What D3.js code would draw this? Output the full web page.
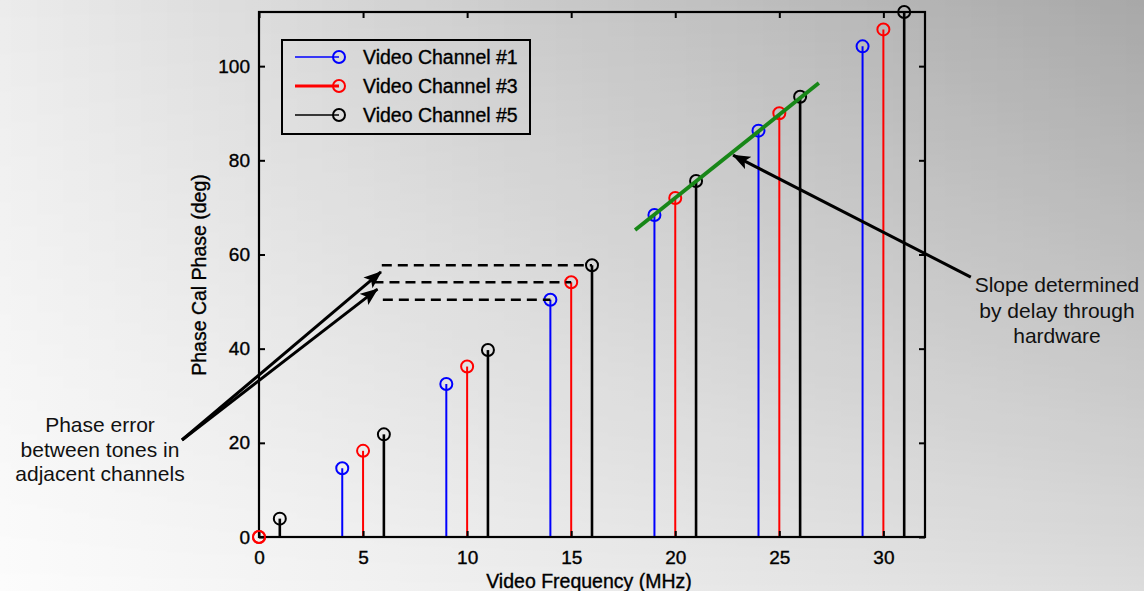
<!DOCTYPE html>
<html><head><meta charset="utf-8">
<script src="https://cdn.jsdelivr.net/npm/d3@7"></script>
<style>html,body{margin:0;padding:0;overflow:hidden;background:#fff}svg{display:block}</style>
</head><body>
<script>
// ---- data ----
const freqCh1 = [4, 9, 14, 19, 24, 29];
const phaseCh1 = [14.6, 32.5, 50.4, 68.4, 86.3, 104.2];
const freqCh3 = [0, 5, 10, 15, 20, 25, 30];
const phaseCh3 = [0, 18.3, 36.2, 54.1, 72.0, 90.0, 107.8];
const freqCh5 = [1, 6, 11, 16, 21, 26, 31];
const phaseCh5 = [3.9, 21.8, 39.7, 57.7, 75.6, 93.5, 111.5];
const seriesNames = ["Video Channel #1", "Video Channel #3", "Video Channel #5"];
const xTicks = [0, 5, 10, 15, 20, 25, 30];
const yTicks = [0, 20, 40, 60, 80, 100];
const xLabel = "Video Frequency (MHz)";
const yLabel = "Phase Cal Phase (deg)";
// annotation geometry in data units
const slopeLine = [[18.07, 65.2], [26.9, 96.4]];
const errorDashes = [[5.9, 16, 57.7], [5.5, 15, 54.1], [5.95, 14, 50.4]];
const errorArrows = [[[-3.7, 20.6], [5.86, 56.3]], [[-3.7, 20.6], [5.69, 52.65]]];
const slopeArrow = [[34.2, 55.2], [22.78, 81.1]];
const noteLeft = ["Phase error", "between tones in", "adjacent channels"];
const noteRight = ["Slope determined", "by delay through", "hardware"];

const W = 1144, H = 591;
const svg = d3.select("body").append("svg").attr("width", W).attr("height", H);
const defs = svg.append("defs");

// background gradient
const gBase = defs.append("linearGradient").attr("id", "gBase").attr("x1", 0).attr("y1", 0).attr("x2", 1).attr("y2", 0);
gBase.append("stop").attr("offset", 0).attr("stop-color", "#fcfcfc");
gBase.append("stop").attr("offset", 1).attr("stop-color", "#dcdcdc");
const gDark = defs.append("linearGradient").attr("id", "gDark").attr("x1", 0).attr("y1", 0).attr("x2", 1).attr("y2", 0);
gDark.append("stop").attr("offset", 0).attr("stop-color", "#000").attr("stop-opacity", 0.063);
gDark.append("stop").attr("offset", 1).attr("stop-color", "#000").attr("stop-opacity", 0.236);
const gMask = defs.append("linearGradient").attr("id", "gMask").attr("x1", 0).attr("y1", 0).attr("x2", 0).attr("y2", 1);
gMask.append("stop").attr("offset", 0).attr("stop-color", "#fff");
gMask.append("stop").attr("offset", 1).attr("stop-color", "#000");
defs.append("mask").attr("id", "mV").append("rect").attr("width", W).attr("height", H).attr("fill", "url(#gMask)");
svg.append("rect").attr("width", W).attr("height", H).attr("fill", "url(#gBase)");
svg.append("rect").attr("width", W).attr("height", H).attr("fill", "url(#gDark)").attr("mask", "url(#mV)");

// arrow marker
defs.append("marker").attr("id", "ah").attr("markerUnits", "userSpaceOnUse")
  .attr("viewBox", "0 0 18 14").attr("refX", 17).attr("refY", 7)
  .attr("markerWidth", 18).attr("markerHeight", 14).attr("orient", "auto")
  .append("path").attr("d", "M0,0 L18,7 L0,14 L4,7 Z").attr("fill", "#000");

const x = d3.scaleLinear().domain([0, 32]).range([259, 925]);
const y = d3.scaleLinear().domain([0, 111.5]).range([537, 12]);
const font = "'Liberation Sans', Arial, sans-serif";

// stems
const series = [
  {f: freqCh1, p: phaseCh1, c: "#0000ff", w: 2},
  {f: freqCh3, p: phaseCh3, c: "#ff0000", w: 2},
  {f: freqCh5, p: phaseCh5, c: "#000000", w: 2.6}
];
const gStem = svg.append("g");
series.forEach(s => {
  const pts = s.f.map((f, i) => ({f, p: s.p[i]}));
  gStem.selectAll(null).data(pts).enter().append("line")
    .attr("x1", d => x(d.f)).attr("x2", d => x(d.f))
    .attr("y1", y(0)).attr("y2", d => y(d.p))
    .attr("stroke", s.c).attr("stroke-width", s.w);
  gStem.selectAll(null).data(pts).enter().append("circle")
    .attr("cx", d => x(d.f)).attr("cy", d => y(d.p)).attr("r", 6)
    .attr("fill", "none").attr("stroke", s.c).attr("stroke-width", 2);
});

// axes box
const box = svg.append("g");
box.append("rect").attr("x", x(0)).attr("y", y(111.5)).attr("width", x(32) - x(0)).attr("height", y(0) - y(111.5))
  .attr("fill", "none").attr("stroke", "#000").attr("stroke-width", 2.2);
const axB = d3.axisBottom(x).tickValues(xTicks).tickSizeInner(-6).tickSizeOuter(0).tickPadding(10);
const axT = d3.axisTop(x).tickValues(xTicks).tickSizeInner(-6).tickSizeOuter(0).tickFormat("");
const axL = d3.axisLeft(y).tickValues(yTicks).tickSizeInner(-6).tickSizeOuter(0).tickPadding(9);
const axR = d3.axisRight(y).tickValues(yTicks).tickSizeInner(-6).tickSizeOuter(0).tickFormat("");
function styleAx(g) {
  g.select(".domain").remove();
  g.selectAll(".tick line").attr("stroke", "#000").attr("stroke-width", 2);
  g.selectAll(".tick text").attr("fill", "#000").attr("stroke", "#000").attr("stroke-width", 0.35)
    .style("font-family", font).style("font-size", "19px");
}
svg.append("g").attr("transform", `translate(0,${y(0)})`).call(axB).call(styleAx)
  .selectAll(".tick text").attr("dy", "0.9em");
svg.append("g").attr("transform", `translate(0,${y(111.5)})`).call(axT).call(styleAx);
svg.append("g").attr("transform", `translate(${x(0)},0)`).call(axL).call(styleAx);
svg.append("g").attr("transform", `translate(${x(32)},0)`).call(axR).call(styleAx);
// re-draw the red zero marker on top of axis
svg.append("circle").attr("cx", x(freqCh3[0])).attr("cy", y(phaseCh3[0])).attr("r", 6)
  .attr("fill", "none").attr("stroke", "#ff0000").attr("stroke-width", 2);

// axis labels
svg.append("text").attr("x", 589).attr("y", 588).attr("text-anchor", "middle")
  .attr("stroke", "#000").attr("stroke-width", 0.35)
  .style("font-family", font).style("font-size", "19.5px").text(xLabel);
svg.append("text").attr("transform", "translate(206,275) rotate(-90)").attr("text-anchor", "middle")
  .attr("stroke", "#000").attr("stroke-width", 0.35)
  .style("font-family", font).style("font-size", "19.5px").text(yLabel);

// legend
const lg = svg.append("g");
lg.append("rect").attr("x", 282).attr("y", 40).attr("width", 248).attr("height", 94)
  .attr("fill", "none").attr("stroke", "#000").attr("stroke-width", 2);
const legW = [1.5, 3, 1.5];
series.forEach((s, i) => {
  const yy = 57 + i * 29;
  lg.append("line").attr("x1", 295).attr("x2", 339).attr("y1", yy).attr("y2", yy)
    .attr("stroke", s.c).attr("stroke-width", legW[i]);
  lg.append("circle").attr("cx", 339).attr("cy", yy).attr("r", 6)
    .attr("fill", "none").attr("stroke", s.c).attr("stroke-width", 2);
  lg.append("text").attr("x", 363).attr("y", yy + 7).attr("stroke", "#000").attr("stroke-width", 0.35)
    .style("font-family", font).style("font-size", "19.5px")
    .text(seriesNames[i]);
});

// annotations
svg.append("line").attr("x1", x(slopeLine[0][0])).attr("y1", y(slopeLine[0][1]))
  .attr("x2", x(slopeLine[1][0])).attr("y2", y(slopeLine[1][1]))
  .attr("stroke", "#178717").attr("stroke-width", 3.8);
errorDashes.forEach(d => {
  svg.append("line").attr("x1", x(d[0])).attr("x2", x(d[1])).attr("y1", y(d[2])).attr("y2", y(d[2]))
    .attr("stroke", "#000").attr("stroke-width", 2.6).attr("stroke-dasharray", "10,6");
});
[...errorArrows, slopeArrow].forEach(a => {
  svg.append("line").attr("x1", x(a[0][0])).attr("y1", y(a[0][1]))
    .attr("x2", x(a[1][0])).attr("y2", y(a[1][1]))
    .attr("stroke", "#000").attr("stroke-width", 3).attr("marker-end", "url(#ah)");
});
function note(lines, cx, by, lh) {
  const t = svg.append("text").attr("text-anchor", "middle").style("font-family", font)
    .style("font-size", "21px").attr("fill", "#111");
  lines.forEach((l, i) => t.append("tspan").attr("x", cx).attr("y", by + i * lh).text(l));
}
note(noteLeft, 100, 432, 24.5);
note(noteRight, 1057, 292, 25.5);
</script>
</body></html>
